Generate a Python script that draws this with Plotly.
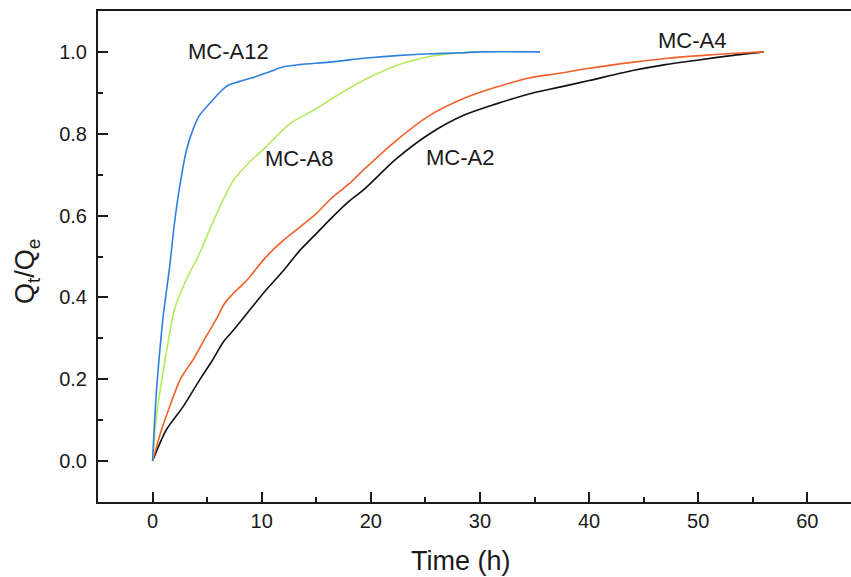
import plotly.graph_objects as go

# MC-A12 (blue)
t_a12 = [0, 0.3, 0.64, 1.0, 1.56, 2.0, 2.48, 3.1, 3.7, 4.3, 5.5, 6.3, 6.9, 8.0, 9.5, 10.8, 11.9, 13.5, 16.2, 19.6, 22.35, 25.0, 28.5, 30.0, 35.5]
v_a12 = [0, 0.15, 0.263, 0.36, 0.474, 0.58, 0.670, 0.759, 0.81, 0.845, 0.882, 0.905, 0.918, 0.928, 0.940, 0.952, 0.963, 0.969, 0.975, 0.985, 0.991, 0.995, 0.998, 1.0, 1.0]

# MC-A8 (green)
t_a8 = [0, 0.4, 0.8, 1.25, 2.0, 2.8, 3.5, 4.3, 5.2, 5.8, 6.45, 7.4, 8.9, 10.4, 12.6, 15.0, 16.2, 19.3, 22.35, 25.4, 27.8, 29.7]
v_a8 = [0, 0.12, 0.19, 0.263, 0.37, 0.426, 0.465, 0.507, 0.564, 0.60, 0.637, 0.686, 0.731, 0.768, 0.825, 0.861, 0.882, 0.930, 0.967, 0.989, 0.997, 1.0]

# MC-A4 (orange)
t_a4 = [0, 0.8, 1.56, 2.5, 3.0, 3.7, 4.9, 5.8, 6.6, 7.4, 8.2, 8.9, 10.4, 12.0, 13.5, 15.0, 16.5, 18.1, 19.3, 22.35, 25.4, 28.5, 31.5, 34.6, 37.3, 40.0, 44.1, 47.0, 50.2, 53.0, 56.0]
v_a4 = [0, 0.075, 0.133, 0.198, 0.22, 0.247, 0.304, 0.345, 0.385, 0.410, 0.430, 0.450, 0.499, 0.540, 0.572, 0.605, 0.645, 0.680, 0.711, 0.784, 0.845, 0.886, 0.914, 0.937, 0.948, 0.960, 0.975, 0.984, 0.991, 0.996, 1.0]

# MC-A2 (black)
t_a2 = [0, 1.25, 2.8, 4.3, 5.5, 6.45, 7.4, 8.9, 10.4, 12.0, 13.5, 15.0, 16.5, 18.1, 19.3, 22.35, 25.4, 28.5, 31.5, 34.6, 37.3, 40.0, 44.1, 47.0, 50.2, 53.0, 56.0]
v_a2 = [0, 0.076, 0.133, 0.198, 0.247, 0.290, 0.320, 0.369, 0.418, 0.466, 0.515, 0.556, 0.597, 0.637, 0.662, 0.739, 0.800, 0.845, 0.873, 0.898, 0.914, 0.930, 0.955, 0.969, 0.981, 0.991, 1.0]

labels = ["MC-A12", "MC-A8", "MC-A2", "MC-A4"]
label_t = [7.0, 13.4, 28.2, 49.4]
label_v = [1.0, 0.74, 0.741, 1.029]

x_ticks = [0, 10, 20, 30, 40, 50, 60]
y_ticks = [0.0, 0.2, 0.4, 0.6, 0.8, 1.0]

FONT = "Liberation Sans, Arial, sans-serif"
INK = "#1a1a1a"

fig = go.Figure()
series = [
    (t_a2, v_a2, "#111111", "MC-A2"),
    (t_a4, v_a4, "#f2602a", "MC-A4"),
    (t_a8, v_a8, "#b3ea5e", "MC-A8"),
    (t_a12, v_a12, "#2f7fe0", "MC-A12"),
]
for t, v, c, n in series:
    fig.add_trace(go.Scatter(x=t, y=v, mode="lines", name=n,
                             line=dict(color=c, width=1.6, shape="spline", smoothing=0.8)))

for lab, lt, lv in zip(labels, label_t, label_v):
    fig.add_annotation(x=lt, y=lv, text=lab, showarrow=False,
                       font=dict(family=FONT, size=22, color=INK),
                       xanchor="center", yanchor="middle")

# axis titles
fig.add_annotation(xref="paper", yref="paper", x=(461 - 98) / 753, y=-(561 - 502) / 491,
                   text="Time (h)", showarrow=False,
                   font=dict(family=FONT, size=27, color=INK),
                   xanchor="center", yanchor="middle")
fig.add_annotation(xref="paper", yref="paper", x=-(98 - 27) / 753, y=(502 - 272) / 491,
                   text="Q<sub>t</sub>/Q<sub>e</sub>", showarrow=False, textangle=-90,
                   font=dict(family=FONT, size=27, color=INK),
                   xanchor="center", yanchor="middle")

fig.update_layout(
    width=851, height=577,
    margin=dict(l=98, r=0, t=11, b=75),
    paper_bgcolor="white", plot_bgcolor="white",
    showlegend=False,
    font=dict(family=FONT, color=INK),
)
fig.update_xaxes(
    range=[-5, 64], tickvals=x_ticks, ticks="inside", ticklen=10, tickwidth=1.5,
    tickcolor=INK, showline=True, linecolor=INK, linewidth=2, mirror=True,
    showgrid=False, zeroline=False, tickfont=dict(size=20, family=FONT),
    minor=dict(dtick=5, tick0=0, ticks="inside", ticklen=5, tickwidth=1.5, tickcolor=INK),
)
fig.update_yaxes(
    range=[-0.1, 1.1], tickvals=y_ticks, tickformat=".1f", ticks="inside", ticklen=10,
    tickwidth=1.5, tickcolor=INK, showline=True, linecolor=INK, linewidth=2,
    mirror=False, showgrid=False, zeroline=False, tickfont=dict(size=20, family=FONT),
    ticklabelstandoff=5,
    minor=dict(dtick=0.1, tick0=0, ticks="inside", ticklen=5, tickwidth=1.5, tickcolor=INK),
)

fig.write_html("out.html", config={"displayModeBar": False},
               post_script="document.body.style.margin='0';document.body.style.overflow='hidden';")
